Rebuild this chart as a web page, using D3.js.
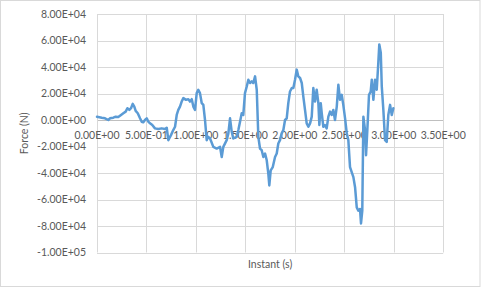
<!DOCTYPE html>
<html>
<head>
<meta charset="utf-8">
<script src="https://cdn.jsdelivr.net/npm/d3@7"></script>
<style>
  body { margin: 0; background: #fff; }
  svg { display: block; font-family: Lato, "Open Sans", sans-serif; }
</style>
</head>
<body>
<svg id="chart" width="481" height="288"></svg>
<script>
// time (s) and force (N)
const timeS = [
  0, 0.048, 0.081, 0.114, 0.131, 0.165, 0.189, 0.215, 0.243, 0.266,
  0.290, 0.307, 0.327, 0.344, 0.361, 0.377, 0.391, 0.412, 0.435, 0.452,
  0.468, 0.485, 0.503, 0.519, 0.536, 0.559, 0.586, 0.620, 0.654, 0.688,
  0.705, 0.721, 0.748, 0.771, 0.789, 0.806, 0.822, 0.839, 0.856, 0.873,
  0.900, 0.923, 0.940, 0.958, 0.974, 0.991, 1.008, 1.024, 1.041, 1.059,
  1.075, 1.092, 1.109, 1.125, 1.143, 1.176, 1.210, 1.244, 1.261, 1.277,
  1.311, 1.328, 1.345, 1.362, 1.378, 1.413, 1.429, 1.446, 1.463, 1.479,
  1.496, 1.514, 1.530, 1.547, 1.564, 1.580, 1.598, 1.615, 1.631, 1.648,
  1.665, 1.682, 1.699, 1.716, 1.732, 1.742, 1.756, 1.777, 1.800, 1.817,
  1.833, 1.850, 1.867, 1.884, 1.901, 1.918, 1.934, 1.951, 1.969, 1.985,
  2.002, 2.019, 2.035, 2.053, 2.070, 2.086, 2.103, 2.120, 2.137, 2.154,
  2.171, 2.187, 2.204, 2.221, 2.238, 2.248, 2.262, 2.272, 2.288, 2.305,
  2.322, 2.339, 2.356, 2.373, 2.389, 2.406, 2.424, 2.440, 2.457, 2.474,
  2.490, 2.508, 2.525, 2.541, 2.558, 2.592, 2.609, 2.626, 2.642, 2.659,
  2.669, 2.682, 2.693, 2.710, 2.720, 2.733, 2.750, 2.767, 2.778, 2.794,
  2.811, 2.828, 2.844, 2.854, 2.869, 2.879, 2.895, 2.912, 2.929, 2.945,
  2.963, 2.980, 2.996
];

const forceN = [
  2510, 1750, 1290, 0, 1290, 1750, 2510, 2280, 3800, 5100,
  6310, 8900, 7600, 8900, 12170, 10110, 6840, 5100, 1290, -1290,
  -1750, 0, 1290, -1290, -2510, -3800, -6310, -6840, -6310, -6840,
  -5860, -15210, -11410, -7600, -5100, 3800, 7600, 10110, 13920, 16500,
  15210, 15740, 13920, 15740, 10110, 7600, 20300, 22820, 20300, 12700,
  11410, 0, -15210, -12700, -13920, -20300, -21520, -20300, -27910, -20300,
  -15210, -10110, 1290, -8900, -13920, -12700, -7600, -1290, 5100, 3800,
  20300, 25320, 30420, 27910, 29130, 27910, 32930, 22820, -12700, -21520,
  -22820, -27910, -25320, -30420, -40530, -49430, -38030, -35520, -27910, -25320,
  -17720, -15210, -10110, -7600, 0, 1290, 12700, 21520, 24110, 24110,
  30420, 38030, 32930, 31710, 27910, 17720, 7600, -2510, -5100, -2510,
  2510, 24110, 13920, 22820, 12700, -3800, 12700, 5100, -5100, -3800,
  -6310, 2510, 6310, 3800, 7600, 0, 10110, 26620, 15210, 19010,
  11410, 1290, -10110, -15210, -35520, -43120, -50720, -65940, -68450, -67150,
  -78100, -68450, 2510, -7600, -26620, -7600, 19010, 21520, 30420, 15210,
  30420, 22820, 43120, 57040, 50730, 25320, 7600, -15210, -16500, 3800,
  11410, 3800, 8900
];

const xTicks = [0, 0.5, 1, 1.5, 2, 2.5, 3, 3.5];
const yTicks = [-100000, -80000, -60000, -40000, -20000, 0, 20000, 40000, 60000, 80000];

const xTitle = "Instant (s)";
const yTitle = "Force (N)";

// excel style scientific label: 5.00E-01
function fmtE(v) {
  const s = v.toExponential(2);
  const [m, e] = s.split("e");
  const n = parseInt(e, 10);
  const sign = n < 0 ? "-" : "+";
  return m + "E" + sign + String(Math.abs(n)).padStart(2, "0");
}

const svg = d3.select("#chart");
const width = 481;
const height = 288;
const plot = { left: 97, right: 443.2, top: 14, bottom: 252.5 };
const textColor = "#595959";

svg.append("rect")
  .attr("x", 0.5).attr("y", 0.5)
  .attr("width", width - 1.5).attr("height", height - 2)
  .attr("fill", "#fff")
  .attr("stroke", "#d9d9d9");

const x = d3.scaleLinear().domain([0, 3.5]).range([plot.left, plot.right]);
const y = d3.scaleLinear().domain([-100000, 80000]).range([plot.bottom, plot.top]);

// gridlines
svg.append("g")
  .selectAll("line")
  .data(yTicks)
  .join("line")
  .attr("x1", plot.left).attr("x2", plot.right)
  .attr("y1", d => Math.round(y(d)) + 0.5).attr("y2", d => Math.round(y(d)) + 0.5)
  .attr("stroke", d => d === 0 ? "#bfbfbf" : "#d9d9d9");

svg.append("g")
  .selectAll("line")
  .data(xTicks)
  .join("line")
  .attr("x1", d => Math.round(x(d)) + 0.5).attr("x2", d => Math.round(x(d)) + 0.5)
  .attr("y1", plot.top).attr("y2", plot.bottom)
  .attr("stroke", "#d9d9d9");

// y tick labels
svg.append("g")
  .selectAll("text")
  .data(yTicks)
  .join("text")
  .attr("x", 86)
  .attr("y", d => y(d))
  .attr("dy", "0.36em")
  .attr("text-anchor", "end")
  .attr("font-size", 10.5)
  .attr("fill", textColor)
  .text(fmtE);

// x tick labels sit under the zero line
svg.append("g")
  .selectAll("text")
  .data(xTicks)
  .join("text")
  .attr("x", d => x(d))
  .attr("y", y(0) + 19)
  .attr("text-anchor", "middle")
  .attr("font-size", 10.5)
  .attr("fill", textColor)
  .text(fmtE);

// the series
const points = timeS.map((t, i) => ({ t, f: forceN[i] }));
svg.append("path")
  .datum(points)
  .attr("fill", "none")
  .attr("stroke", "#5b9bd5")
  .attr("stroke-width", 2.5)
  .attr("stroke-linejoin", "round")
  .attr("stroke-linecap", "round")
  .attr("d", d3.line().x(d => x(d.t)).y(d => y(d.f)));

// axis titles
svg.append("text")
  .attr("x", (plot.left + plot.right) / 2)
  .attr("y", 267.5)
  .attr("text-anchor", "middle")
  .attr("font-size", 10.5)
  .attr("fill", textColor)
  .text(xTitle);

svg.append("text")
  .attr("transform", `translate(27.5,${(plot.top + plot.bottom) / 2}) rotate(-90)`)
  .attr("text-anchor", "middle")
  .attr("font-size", 10.5)
  .attr("fill", textColor)
  .text(yTitle);
</script>
</body>
</html>
